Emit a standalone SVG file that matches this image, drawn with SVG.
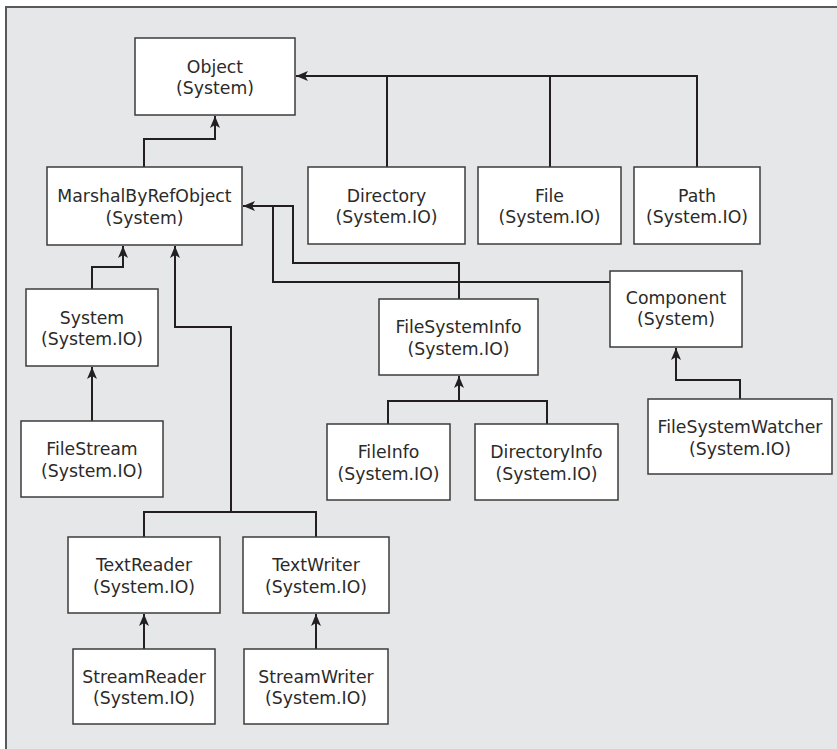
<svg xmlns="http://www.w3.org/2000/svg" width="837" height="749" viewBox="0 0 837 749">
<style>
.box rect{fill:#ffffff;stroke:#3c3c3c;stroke-width:1.5}
.box text{font-family:"DejaVu Sans","Liberation Sans",sans-serif;font-size:17.3px;fill:#2b2a29;text-anchor:middle}
.conn path{fill:none;stroke:#231f20;stroke-width:2;marker-end:none}
.conn path.arr{marker-end:url(#ah)}
</style>
<defs>
<marker id="ah" markerUnits="userSpaceOnUse" markerWidth="12" markerHeight="10" refX="12" refY="5" orient="auto">
<path d="M0,0 L12,5 L0,10 L3,5 Z" fill="#231f20"/>
</marker>
</defs>
<rect x="6" y="7" width="840" height="750" fill="#e6e7e8" stroke="#58595b" stroke-width="2"/>
<g class="conn">
<path class="arr" d="M697,167 V76 H296"/>
<path d="M387,167 V76"/>
<path d="M550,167 V76"/>
<path class="arr" d="M144,167 V139 H215 V116"/>
<path class="arr" d="M92,289 V267 H123 V246"/>
<path class="arr" d="M92,421 V367"/>
<path d="M144,537 V512 H316 V537"/>
<path class="arr" d="M231,512 V327 H175 V246"/>
<path class="arr" d="M144,649 V614"/>
<path class="arr" d="M316,649 V614"/>
<path class="arr" d="M459,299 V263 H293 V206 H243"/>
<path d="M610,282 H273 V206"/>
<path d="M388,424 V401 H547 V424"/>
<path class="arr" d="M459,401 V376"/>
<path class="arr" d="M740,399 V380 H676 V348"/>
</g>
<g id="object" class="box"><rect x="135" y="38" width="160" height="77"/><text x="215" y="72.5">Object</text><text x="215" y="94">(System)</text></g>
<g id="marshal" class="box"><rect x="47" y="167" width="195" height="78"/><text x="144.5" y="202">MarshalByRefObject</text><text x="144.5" y="223.5">(System)</text></g>
<g id="directory" class="box"><rect x="308" y="167" width="157" height="77"/><text x="386.5" y="201.5">Directory</text><text x="386.5" y="223">(System.IO)</text></g>
<g id="file" class="box"><rect x="478" y="167" width="143" height="77"/><text x="549.5" y="201.5">File</text><text x="549.5" y="223">(System.IO)</text></g>
<g id="path" class="box"><rect x="634" y="167" width="126" height="77"/><text x="697" y="201.5">Path</text><text x="697" y="223">(System.IO)</text></g>
<g id="system-io" class="box"><rect x="26" y="289" width="132" height="77"/><text x="92" y="323.5">System</text><text x="92" y="345">(System.IO)</text></g>
<g id="filesysteminfo" class="box"><rect x="379" y="299" width="159" height="76"/><text x="458.5" y="333">FileSystemInfo</text><text x="458.5" y="354.5">(System.IO)</text></g>
<g id="component" class="box"><rect x="610" y="271" width="132" height="76"/><text x="676" y="303.5">Component</text><text x="676" y="325">(System)</text></g>
<g id="filestream" class="box"><rect x="21" y="421" width="142" height="76"/><text x="92" y="455">FileStream</text><text x="92" y="476.5">(System.IO)</text></g>
<g id="fileinfo" class="box"><rect x="327" y="424" width="123" height="76"/><text x="388.5" y="458">FileInfo</text><text x="388.5" y="479.5">(System.IO)</text></g>
<g id="directoryinfo" class="box"><rect x="475" y="424" width="143" height="76"/><text x="546.5" y="458">DirectoryInfo</text><text x="546.5" y="479.5">(System.IO)</text></g>
<g id="filesystemwatcher" class="box"><rect x="648" y="399" width="184" height="75"/><text x="740" y="433">FileSystemWatcher</text><text x="740" y="454.5">(System.IO)</text></g>
<g id="textreader" class="box"><rect x="68" y="537" width="152" height="76"/><text x="144" y="571">TextReader</text><text x="144" y="592.5">(System.IO)</text></g>
<g id="textwriter" class="box"><rect x="243" y="537" width="146" height="76"/><text x="316" y="571">TextWriter</text><text x="316" y="592.5">(System.IO)</text></g>
<g id="streamreader" class="box"><rect x="73" y="649" width="142" height="75"/><text x="144" y="682.5">StreamReader</text><text x="144" y="704">(System.IO)</text></g>
<g id="streamwriter" class="box"><rect x="244" y="649" width="144" height="75"/><text x="316" y="682.5">StreamWriter</text><text x="316" y="704">(System.IO)</text></g>
</svg>
